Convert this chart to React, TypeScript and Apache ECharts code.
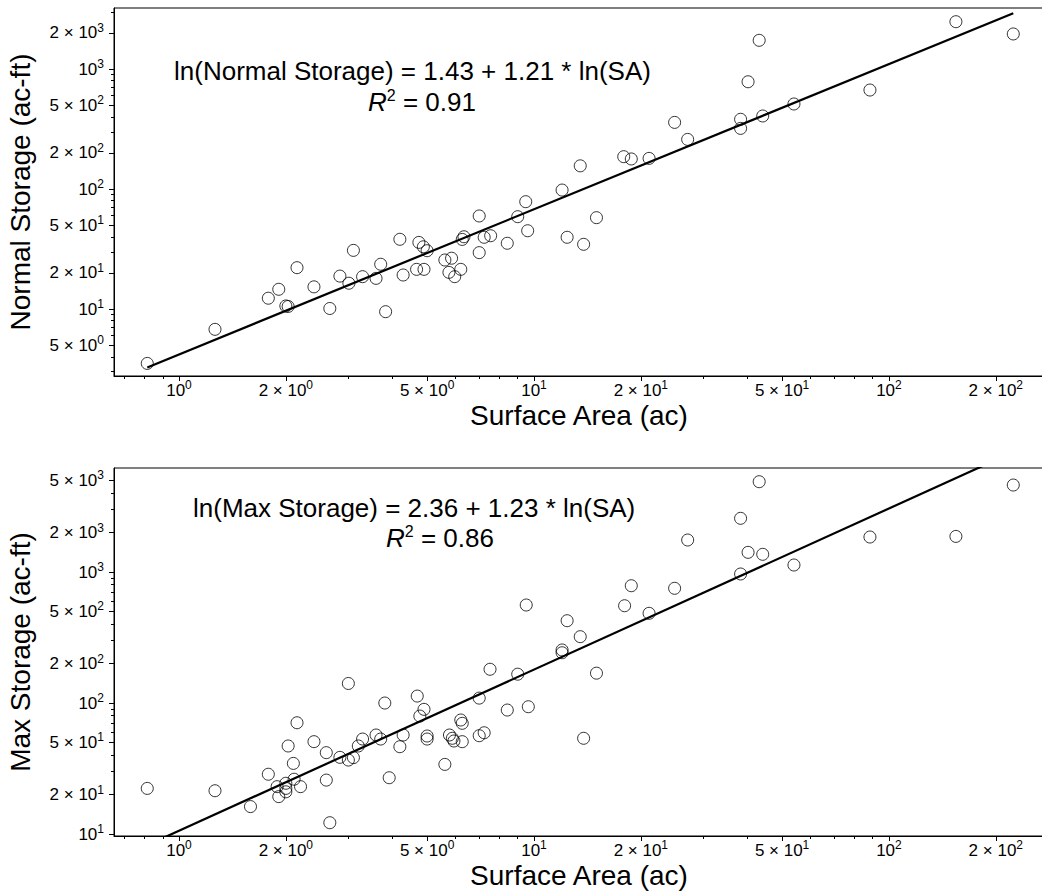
import React, { useEffect, useRef } from "react";
import * as echarts from "echarts";

// ---------- data ----------
const areaTop = [
  0.814, 1.263, 1.785, 1.91, 2.0, 2.03, 2.15, 2.4, 2.66, 2.84, 3.01, 3.1, 3.29, 3.59, 3.7, 3.82,
  4.19, 4.28, 4.74, 4.88, 5.0, 4.67, 4.9, 5.61, 5.86, 5.76, 5.98, 6.22, 6.28, 6.35, 7.01, 7.01,
  7.24, 7.55, 8.41, 9.0, 9.48, 9.6, 12.0, 12.4, 13.5, 13.8, 15.0, 17.9, 18.8, 21.1, 24.9, 27.1,
  38.2, 38.2, 40.1, 43.1, 44.1, 54.0, 88.4, 154.4, 224,
];
const normalStorage = [
  3.52, 6.77, 12.3, 14.6, 10.6, 10.5, 22.1, 15.3, 10.1, 18.8, 16.4, 30.8, 18.6, 18.0, 23.6, 9.5,
  38.1, 19.2, 35.9, 33.0, 30.6, 21.4, 21.4, 25.6, 26.5, 20.2, 18.6, 21.4, 38.0, 40.0, 59.6, 29.5,
  39.6, 40.8, 35.3, 58.8, 78.4, 44.9, 98, 39.6, 156, 34.6, 57.7, 186, 178, 180, 359, 259,
  381, 320, 783, 1734, 406, 511, 668, 2479, 1959,
];

const areaBottom = [
  0.814, 1.263, 1.59, 1.785, 1.89, 1.91, 2.0, 2.0, 2.0, 2.03, 2.1, 2.11, 2.15, 2.2, 2.4, 2.6,
  2.6, 2.66, 2.84, 3.0, 3.0, 3.1, 3.2, 3.29, 3.59, 3.7, 3.8, 3.91, 4.19, 4.28, 4.69, 4.77,
  4.9, 5.0, 5.0, 5.61, 5.78, 5.89, 5.95, 6.22, 6.28, 6.28, 7.01, 7.01, 7.24, 7.52, 8.41, 9.0,
  9.51, 9.64, 12.0, 12.0, 12.4, 13.5, 13.8, 15.0, 18.0, 18.8, 21.1, 24.9, 27.1, 38.2, 38.2, 40.1,
  43.1, 44.1, 54.0, 88.4, 154.4, 224,
];
const maxStorage = [
  22.3, 21.4, 16.2, 28.6, 23.0, 19.3, 24.4, 22.3, 21.0, 47.0, 34.6, 26.2, 70.7, 23.0, 50.7, 41.8,
  25.8, 12.2, 38.5, 36.7, 141, 38.3, 47.0, 53.1, 57.0, 53.1, 100, 26.9, 46.4, 57.0, 113, 79.5,
  89.5, 56.0, 53.1, 34.0, 57.0, 53.8, 51.3, 74.2, 70.0, 50.7, 109, 56.3, 59.3, 181, 88.4, 166,
  560, 93.7, 254, 242, 425, 321, 53.8, 169, 553, 786, 484, 751, 1755, 2570, 966, 1413,
  4890, 1365, 1131, 1850, 1870, 4613,
];

// regression: ln(Y) = a + b * ln(SA)
const normalFit = [1.43, 1.21];
const maxFit = [2.36, 1.23];
const rSquared = [0.91, 0.86];

// ticks
const xMajorTicks = [1, 2, 5, 10, 20, 50, 100, 200];
const xMinorTicks = [0.7, 0.8, 0.9, 3, 4, 6, 7, 8, 9, 30, 40, 60, 70, 80, 90];
const yTopMajorTicks = [5, 10, 20, 50, 100, 200, 500, 1000, 2000];
const yTopMinorTicks = [3, 4, 6, 7, 8, 9, 30, 40, 60, 70, 80, 90, 300, 400, 600, 700, 800, 900, 3000];
const yBottomMajorTicks = [10, 20, 50, 100, 200, 500, 1000, 2000, 5000];
const yBottomMinorTicks = [30, 40, 60, 70, 80, 90, 300, 400, 600, 700, 800, 900, 3000, 4000];

// axis ranges
const xRange = [0.656, 273.4];
const yTopRange = [2.765, 3224];
const yBottomRange = [9.66, 6223];

// ---------- helpers ----------
const FONT = '"Liberation Sans", Arial, Helvetica, sans-serif';

function sciLabel(v: number): string {
  const e = Math.floor(Math.log10(v) + 1e-9);
  const m = Math.round(v / Math.pow(10, e));
  return m === 1 ? `{b|10}{s|${e}}` : `{b|${m} × 10}{s|${e}}`;
}

const labelRich = {
  b: { fontSize: 17, lineHeight: 22, fontFamily: FONT, color: "#000" },
  s: { fontSize: 12, lineHeight: 13, verticalAlign: "top", fontFamily: FONT, color: "#000" },
};

function fitLine(xs: number[], coef: number[]): number[][] {
  const lo = Math.min(...xs);
  const hi = Math.max(...xs);
  return [lo, hi].map((x) => [x, Math.exp(coef[0] + coef[1] * Math.log(x))]);
}

function xAxes(gridIndex: number) {
  return [
    {
      type: "log",
      gridIndex,
      position: "bottom",
      min: xRange[0],
      max: xRange[1],
      name: "Surface Area (ac)",
      nameLocation: "middle",
      nameGap: 25,
      nameTextStyle: { fontSize: 28, color: "#000", fontFamily: FONT },
      axisLine: { show: true, lineStyle: { color: "#000", width: 1 } },
      axisTick: { show: true, length: 5, customValues: xMajorTicks, lineStyle: { color: "#000" } },
      axisLabel: {
        show: true,
        customValues: xMajorTicks,
        formatter: sciLabel,
        rich: labelRich,
        margin: 3,
        fontSize: 17,
        fontFamily: FONT,
        color: "#000",
      },
      splitLine: { show: false },
    },
    {
      type: "log",
      gridIndex,
      position: "bottom",
      offset: 0,
      min: xRange[0],
      max: xRange[1],
      axisLine: { show: false },
      axisTick: { show: true, length: 3, customValues: xMinorTicks, lineStyle: { color: "#000" } },
      axisLabel: { show: false },
      splitLine: { show: false },
    },
  ];
}

function yAxes(gridIndex: number, name: string, range: number[], major: number[], minor: number[]) {
  return [
    {
      type: "log",
      gridIndex,
      position: "left",
      min: range[0],
      max: range[1],
      name,
      nameLocation: "middle",
      nameGap: 80,
      nameTextStyle: { fontSize: 28, color: "#000", fontFamily: FONT },
      axisLine: { show: true, lineStyle: { color: "#000", width: 1 } },
      axisTick: { show: true, length: 5, customValues: major, lineStyle: { color: "#000" } },
      axisLabel: {
        show: true,
        customValues: major,
        formatter: sciLabel,
        rich: labelRich,
        margin: 10,
        fontSize: 17,
        fontFamily: FONT,
        color: "#000",
      },
      splitLine: { show: false },
    },
    {
      type: "log",
      gridIndex,
      position: "left",
      offset: 0,
      min: range[0],
      max: range[1],
      axisLine: { show: false },
      axisTick: { show: true, length: 3, customValues: minor, lineStyle: { color: "#000" } },
      axisLabel: { show: false },
      splitLine: { show: false },
    },
  ];
}

const eqText = (lhs: string, coef: number[]) =>
  `ln(${lhs}) = ${coef[0].toFixed(2)} + ${coef[1].toFixed(2)} * ln(SA)`;

const r2Rich = {
  i: { fontSize: 26, fontStyle: "italic", fontFamily: FONT, fill: "#000", lineHeight: 30 },
  s: { fontSize: 16, fontFamily: FONT, fill: "#000", verticalAlign: "top", lineHeight: 18 },
  t: { fontSize: 26, fontFamily: FONT, fill: "#000", lineHeight: 30 },
};

export default function App() {
  const ref = useRef<HTMLDivElement>(null);

  useEffect(() => {
    if (!ref.current) return;
    const chart = echarts.init(ref.current, undefined, { renderer: "svg" });

    const scatterStyle = {
      symbol: "circle",
      symbolSize: 12,
      itemStyle: { color: "rgba(0,0,0,0)", borderColor: "#000", borderWidth: 1 },
      silent: true,
    };

    const option: any = {
      animation: false,
      backgroundColor: "#fff",
      textStyle: { fontFamily: FONT },
      grid: [
        { left: 114, top: 8, width: 930, height: 368, show: true, borderColor: "#000", borderWidth: 1, backgroundColor: "transparent", outerBoundsMode: "none" },
        { left: 114, top: 468, width: 930, height: 368, show: true, borderColor: "#000", borderWidth: 1, backgroundColor: "transparent", outerBoundsMode: "none" },
      ],
      xAxis: [...xAxes(0), ...xAxes(1)],
      yAxis: [
        ...yAxes(0, "Normal Storage (ac-ft)", yTopRange, yTopMajorTicks, yTopMinorTicks),
        ...yAxes(1, "Max Storage (ac-ft)", yBottomRange, yBottomMajorTicks, yBottomMinorTicks),
      ],
      series: [
        {
          type: "line",
          xAxisIndex: 0,
          yAxisIndex: 0,
          data: fitLine(areaTop, normalFit),
          showSymbol: false,
          clip: true,
          lineStyle: { color: "#000", width: 2.2 },
          silent: true,
        },
        {
          type: "scatter",
          xAxisIndex: 0,
          yAxisIndex: 0,
          data: areaTop.map((x, i) => [x, normalStorage[i]]),
          ...scatterStyle,
        },
        {
          type: "line",
          xAxisIndex: 2,
          yAxisIndex: 2,
          data: fitLine(areaBottom, maxFit),
          showSymbol: false,
          clip: true,
          lineStyle: { color: "#000", width: 2.2 },
          silent: true,
        },
        {
          type: "scatter",
          xAxisIndex: 2,
          yAxisIndex: 2,
          data: areaBottom.map((x, i) => [x, maxStorage[i]]),
          ...scatterStyle,
        },
      ],
      graphic: [
        {
          type: "text",
          x: 174,
          y: 71,
          style: { text: eqText("Normal Storage", normalFit), font: `26px ${FONT}`, fill: "#000", verticalAlign: "middle" },
        },
        {
          type: "text",
          x: 368,
          y: 102,
          style: { text: `{i|R}{s|2}{t| = ${rSquared[0].toFixed(2)}}`, rich: r2Rich, verticalAlign: "middle", fill: "#000" },
        },
        {
          type: "text",
          x: 193,
          y: 508,
          style: { text: eqText("Max Storage", maxFit), font: `26px ${FONT}`, fill: "#000", verticalAlign: "middle" },
        },
        {
          type: "text",
          x: 386,
          y: 538,
          style: { text: `{i|R}{s|2}{t| = ${rSquared[1].toFixed(2)}}`, rich: r2Rich, verticalAlign: "middle", fill: "#000" },
        },
      ],
    };

    chart.setOption(option);
    return () => chart.dispose();
  }, []);

  return (
    <div
      ref={ref}
      style={{ position: "absolute", left: 0, top: 0, width: 1042, height: 894, background: "#fff" }}
    />
  );
}
